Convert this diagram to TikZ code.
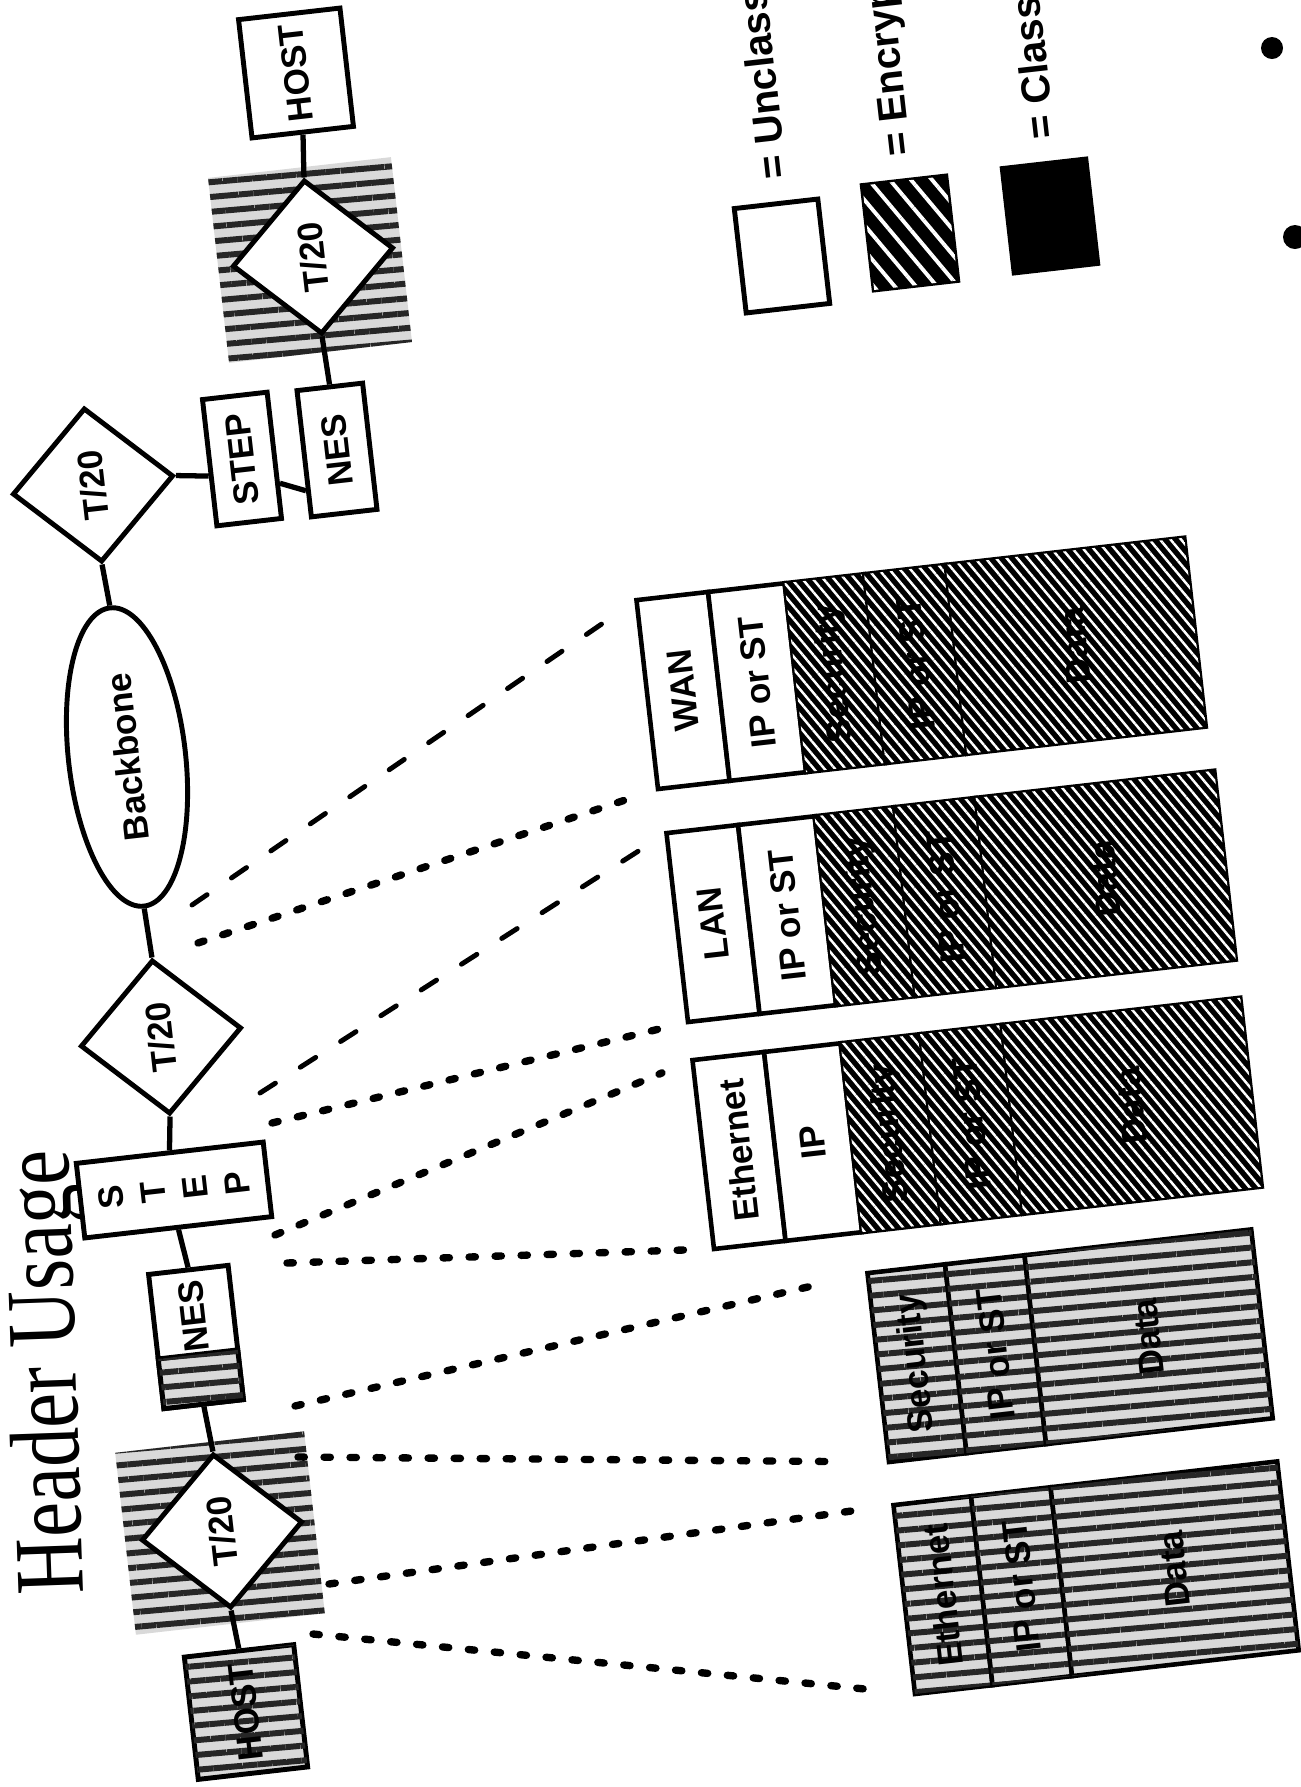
\documentclass[tikz,border=0pt]{standalone}
\usepackage{fontspec}
\setmainfont{Liberation Sans}
\newfontfamily\titlefont{Liberation Serif}
\usetikzlibrary{calc,positioning,shapes.geometric,patterns.meta}
\newcommand{\tiltang}{96.5}
\tikzset{
  link/.style={line width=1.5pt},
  unitbox/.style={draw,line width=1.4pt,fill=white,rotate=\tiltang,inner sep=0pt,font=\bfseries},
  tdiam/.style={unitbox,diamond,minimum width=1.55cm,minimum height=1.62cm},
  fld/.style={draw,line width=1.3pt,rotate=\tiltang,inner sep=0pt,outer sep=0pt,font=\bfseries,minimum width=1.9cm,anchor=north west},
  whitef/.style={fill=white},
  encd/.style={fill=black,postaction={pattern={Lines[angle=-50,distance=2.3pt,line width=.7pt]},pattern color=white}},
  encl/.style={fill=black,postaction={pattern={Lines[angle=-50,distance=4.6pt,line width=1.1pt]},pattern color=white}},
  clsd/.style={fill=black!15,postaction={pattern={Lines[angle=5,distance=4.2pt,line width=1.7pt]},pattern color=black!85}},
  dotl/.style={line width=2.1pt,line cap=round,dash pattern=on 1.8pt off 5.6pt},
  dashl/.style={line width=1.4pt,line cap=round,dash pattern=on 5.2pt off 8.4pt},
  legbox/.style={draw,line width=1.4pt,rotate=\tiltang,minimum width=1.05cm,minimum height=0.84cm},
  legtxt/.style={rotate=\tiltang,font=\bfseries\fontsize{11.5}{13}\selectfont,anchor=west,inner sep=0pt}
}
% hatched packet: name, lower left corner, link layer, net layer
\newcommand{\hpacket}[4]{%
  \node[fld,whitef,minimum height=0.72cm] (#1a) at (#2) {#3};
  \node[fld,whitef,minimum height=0.77cm] (#1b) at (#1a.south west) {#4};
  \node[fld,encd,minimum height=0.8cm] (#1c) at (#1b.south west) {Security};
  \node[fld,encd,minimum height=0.82cm] (#1d) at (#1c.south west) {IP or ST};
  \node[fld,encd,minimum height=2.4cm] (#1e) at (#1d.south west) {Data};}
% plain text packet: name, lower left corner, first field
\newcommand{\cpacket}[3]{%
  \node[fld,clsd,minimum height=0.78cm] (#1a) at (#2) {#3};
  \node[fld,clsd,minimum height=0.8cm] (#1b) at (#1a.south west) {IP or ST};
  \node[fld,clsd,minimum height=2.28cm] (#1c) at (#1b.south west) {Data};}

\begin{document}
\begin{tikzpicture}[x=0.01cm,y=-0.01cm]
\useasboundingbox (0,0) rectangle (1301,1787);
\clip (0,0) rectangle (1301,1787);
\fill[white] (0,0) rectangle (1301,1787);
\node[rotate=92,anchor=base west,inner sep=0pt,font=\titlefont\fontsize{28}{32}\selectfont] (ttl) at (84,1594) {\scalebox{0.8}[1]{Header Usage}};
% network
\node[unitbox,minimum width=1.19cm,minimum height=1.02cm] (hostT) at (296,73) {HOST};
\node[clsd,rotate=\tiltang,minimum width=1.86cm,minimum height=1.84cm] (bgA) at (310,260) {};
\node[tdiam] (diaA) at (313,257) {T/20};
\node[unitbox,minimum width=1.27cm,minimum height=0.65cm] (stepT) at (242,459) {STEP};
\node[unitbox,minimum width=1.27cm,minimum height=0.66cm] (nesT) at (337,450) {NES};
\node[tdiam] (diaB) at (93,485) {T/20};
\node[unitbox,ellipse,minimum width=3cm,minimum height=1.17cm] (bb) at (127,757) {Backbone};
\node[tdiam] (diaC) at (161,1037) {T/20};
\node[unitbox,align=center,minimum width=0.75cm,minimum height=1.88cm] (stepM) at (174,1190) {S\\T\\E\\P};
\node[unitbox,minimum width=1.35cm,minimum height=0.8cm] (nesM) at (196,1337) {};
\node[unitbox,clsd,minimum width=0.5cm,minimum height=0.8cm,anchor=west] (nesMx) at (nesM.west) {};
\node[rotate=\tiltang,font=\bfseries] (nesMl) at ($(nesM.center)!0.3!(nesM.east)$) {NES};
\node[clsd,rotate=\tiltang,minimum width=1.83cm,minimum height=1.9cm] (bgD) at (220,1533) {};
\node[tdiam] (diaD) at (222,1531) {T/20};
\node[unitbox,clsd,minimum width=1.23cm,minimum height=1.1cm] (hostB) at (246,1712) {HOST};
\draw[link] (hostT.west) -- (diaA.east);
\draw[link] (diaA.west) -- (nesT.east);
\draw[link] ($(stepT.south)!0.43!(stepT.south west)$) -- ($(nesT.north)!0.56!(nesT.north west)$);
\draw[link] (diaB.south) -- ($(stepT.north)!0.2!(stepT.north west)$);
\draw[link] (diaB.west) -- (bb.east);
\draw[link] (bb.west) -- (diaC.east);
\draw[link] (diaC.west) -- (stepM.east);
\draw[link] (stepM.west) -- (nesM.east);
\draw[link] (nesM.west) -- (diaD.east);
\draw[link] (diaD.west) -- (hostB.east);
% packets
\hpacket{wan}{658,789}{WAN}{IP or ST}
\hpacket{lan}{688,1022}{LAN}{IP or ST}
\hpacket{eth}{714,1249}{Ethernet}{IP}
\cpacket{sec}{889,1462}{Security}
\cpacket{ceth}{915,1694}{Ethernet}
\coordinate (sA) at (192,905); \coordinate (sB) at (198,943);
\coordinate (sC) at (260,1093); \coordinate (sD) at (272,1123);
\coordinate (sE) at (275,1235); \coordinate (sF) at (287,1263);
\coordinate (sG) at (295,1406); \coordinate (sH) at (298,1457);
\coordinate (sI) at (329,1584); \coordinate (sJ) at (313,1634);
\draw[dashl,shorten >=0.33cm] (sA) -- (wana.north east);
\draw[dotl,shorten >=0.33cm] (sB) -- (wana.north west);
\draw[dashl,shorten >=0.33cm] (sC) -- (lana.north east);
\draw[dotl,shorten >=0.28cm] (sD) -- (lana.north west);
\draw[dotl,shorten >=0.33cm] (sE) -- (etha.north east);
\draw[dotl,shorten >=0.3cm] (sF) -- (etha.north west);
\draw[dotl,shorten >=0.5cm] (sG) -- (seca.north east);
\draw[dotl,shorten >=0.45cm] (sH) -- (seca.north west);
\draw[dotl,shorten >=0.4cm] (sI) -- (cetha.north east);
\draw[dotl,shorten >=0.4cm] (sJ) -- (cetha.north west);
% legend
\node[legbox] (unc) at (782,256) {};
\node[legbox,encl] (enc) at (910,233) {};
\node[legbox,fill=black] (cls) at (1050,216) {};
\node[legtxt] (unct) at ($(unc.east)!-0.22cm!(unc.center)$) {= Unclassified};
\node[legtxt] (enct) at ($(enc.east)!-0.22cm!(enc.center)$) {= Encrypted};
\node[legtxt] (clst) at ($(cls.east)!-0.22cm!(cls.center)$) {= Classified};
\fill (1272,48) circle (0.11cm);
\fill (1295,237) circle (0.12cm);
\end{tikzpicture}
\end{document}
